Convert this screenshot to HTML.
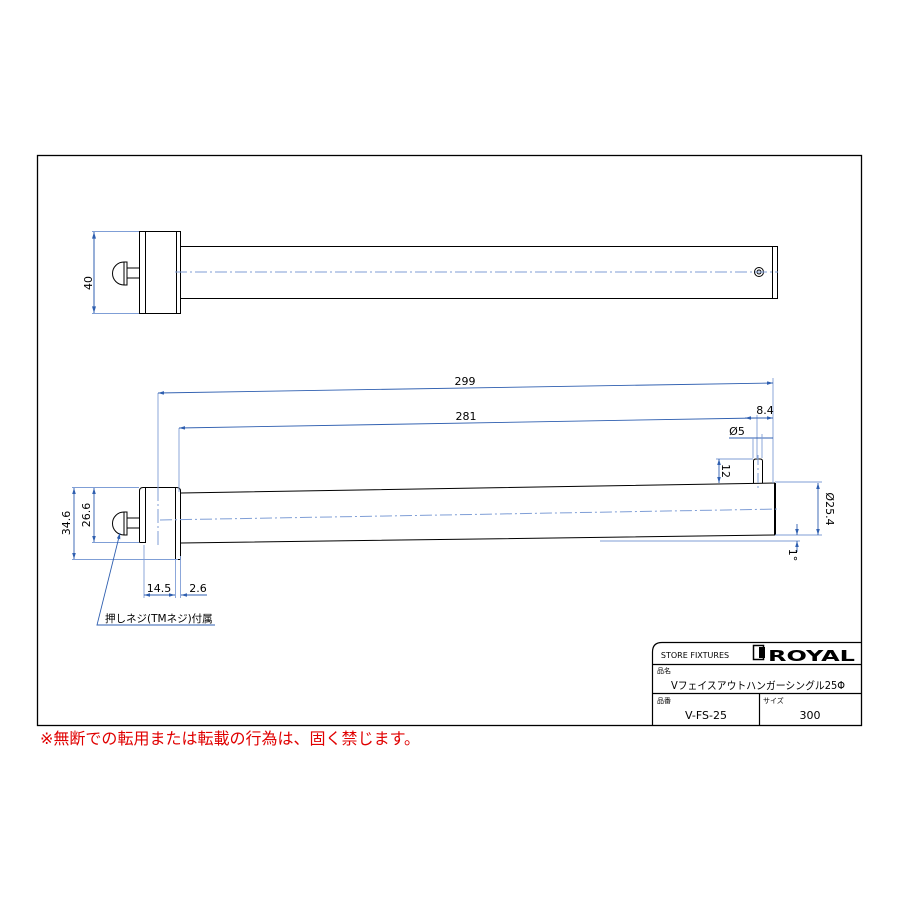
<!DOCTYPE html>
<html><head><meta charset="utf-8"><style>
html,body{margin:0;padding:0;background:#fff}
svg{display:block}
text{font-family:"DejaVu Sans","Liberation Sans","Noto Sans CJK JP",sans-serif}
</style></head><body>
<svg width="900" height="900" viewBox="0 0 900 900" xmlns="http://www.w3.org/2000/svg">
<defs>
<marker id="a" viewBox="0 0 10 6" refX="10" refY="3" markerWidth="7" markerHeight="4" orient="auto-start-reverse"><path d="M0,0L10,3L0,6z" fill="#2f5fb0"/></marker>
</defs>
<rect x="37.5" y="155.5" width="824" height="570" fill="none" stroke="#000" stroke-width="1.3"/>

<!-- TOP VIEW -->
<g fill="none" stroke="#000" stroke-width="1">
<rect x="139.5" y="231.5" width="41" height="82"/>
<line x1="145.5" y1="231" x2="145.5" y2="313"/>
<line x1="176.5" y1="231" x2="176.5" y2="313"/>
<rect x="180.5" y="246.5" width="597" height="52"/>
<line x1="772.5" y1="246" x2="772.5" y2="298"/>
<circle cx="759" cy="272" r="4.5"/><circle cx="759" cy="272" r="2"/>
<path d="M124,262 A11,11 0 0 0 124,285 L127,285 L127,262 Z"/>
<line x1="124" y1="262" x2="124" y2="285"/><line x1="127" y1="262" x2="127" y2="285"/>
<rect x="127" y="268" width="12.5" height="10"/>
</g>
<line x1="175" y1="272" x2="778" y2="272" stroke="#7f9ed6" stroke-dasharray="12,3,2,3"/>
<g stroke="#7f9ed6" fill="none">
<line x1="92" y1="231.5" x2="139" y2="231.5"/><line x1="92" y1="313.5" x2="139" y2="313.5"/>
<line x1="94" y1="232" x2="94" y2="313" stroke="#2f5fb0" marker-start="url(#a)" marker-end="url(#a)"/>
</g>
<text x="92" y="283" font-size="11" transform="rotate(-90 92 283)" text-anchor="middle">40</text>

<!-- SIDE VIEW -->
<g fill="none" stroke="#000" stroke-width="1">
<path d="M139.5,542.5 V491 Q139.5,487.5 143,487.5 H176.5 Q180.5,487.5 180.5,491 V559.5 H175.5 V487.5"/>
<path d="M139.5,542.5 H145.5 V487.5"/>
<path d="M181,493 L775,483 M181,543 L775,535"/>
<line x1="775" y1="483" x2="775" y2="535" stroke-width="2"/>
<path d="M753.5,483 V461 Q753.5,459 756,459 H760 Q762.5,459 762.5,461 V483"/>
<path d="M124,512 A11,11 0 0 0 124,535 L127,535 L127,512 Z"/>
<line x1="124" y1="512" x2="124" y2="535"/><line x1="127" y1="512" x2="127" y2="535"/>
<rect x="127" y="518" width="12.5" height="10"/>
</g>
<line x1="160" y1="520" x2="780" y2="509" stroke="#7f9ed6" stroke-dasharray="12,3,2,3"/>
<line x1="158" y1="487" x2="158" y2="545" stroke="#7f9ed6" stroke-dasharray="14,3,2,3"/>
<line x1="758" y1="455" x2="758" y2="490" stroke="#7f9ed6" stroke-dasharray="10,3,2,3"/>

<g stroke="#7f9ed6" fill="none" stroke-width="0.9">
<line x1="158" y1="393" x2="158" y2="487"/>
<line x1="773" y1="378" x2="773" y2="483"/>
<line x1="158" y1="393" x2="773" y2="383" stroke="#2f5fb0" marker-start="url(#a)" marker-end="url(#a)"/>
<line x1="179" y1="428" x2="179" y2="492"/>
<line x1="179" y1="428" x2="757" y2="418" stroke="#2f5fb0" marker-start="url(#a)"/>
<line x1="757" y1="415" x2="757" y2="459"/>
<line x1="745" y1="418" x2="773" y2="418" stroke="#2f5fb0" marker-start="url(#a)" marker-end="url(#a)"/>
<line x1="729" y1="438" x2="773" y2="438" stroke="#2f5fb0"/>
<line x1="753" y1="438" x2="753" y2="458"/><line x1="762" y1="434" x2="762" y2="458"/>
<line x1="716" y1="459" x2="753" y2="459"/>
<line x1="719" y1="459" x2="719" y2="483" stroke="#2f5fb0" marker-start="url(#a)" marker-end="url(#a)"/>
<line x1="775" y1="482" x2="822" y2="482"/><line x1="775" y1="535" x2="822" y2="535"/>
<line x1="818" y1="483" x2="818" y2="535" stroke="#2f5fb0" marker-start="url(#a)" marker-end="url(#a)"/>
<line x1="600" y1="541" x2="800" y2="541"/>
<line x1="797" y1="524" x2="797" y2="535" stroke="#2f5fb0" marker-end="url(#a)"/>
<line x1="797" y1="552" x2="797" y2="541" stroke="#2f5fb0" marker-end="url(#a)"/>
<line x1="72" y1="487.5" x2="139" y2="487.5"/><line x1="72" y1="559.5" x2="178" y2="559.5"/>
<line x1="92" y1="542.5" x2="139" y2="542.5"/>
<line x1="74" y1="488" x2="74" y2="559" stroke="#2f5fb0" marker-start="url(#a)" marker-end="url(#a)"/>
<line x1="94" y1="488" x2="94" y2="542" stroke="#2f5fb0" marker-start="url(#a)" marker-end="url(#a)"/>
<line x1="144" y1="545" x2="144" y2="598"/>
<line x1="175.5" y1="560" x2="175.5" y2="598"/>
<line x1="180.5" y1="556" x2="180.5" y2="598"/>
<line x1="144" y1="595" x2="175" y2="595" stroke="#2f5fb0" marker-start="url(#a)" marker-end="url(#a)"/>
<line x1="181" y1="595" x2="207" y2="595" stroke="#2f5fb0" marker-start="url(#a)"/>
<polyline points="120,533 97,625 215,625" stroke="#2f5fb0" marker-start="url(#a)"/>
</g>
<g font-size="11" fill="#000">
<text x="465" y="385" text-anchor="middle">299</text>
<text x="466" y="420" text-anchor="middle">281</text>
<text x="765" y="414" text-anchor="middle">8.4</text>
<text x="737" y="435" text-anchor="middle">Ø5</text>
<text x="722" y="471" text-anchor="middle" transform="rotate(90 722 471)">12</text>
<text x="826" y="509" text-anchor="middle" transform="rotate(90 826 509)">Ø25.4</text>
<text x="789" y="555" text-anchor="middle" transform="rotate(90 789 555)">1°</text>
<text x="70" y="523" text-anchor="middle" transform="rotate(-90 70 523)">34.6</text>
<text x="90" y="515" text-anchor="middle" transform="rotate(-90 90 515)">26.6</text>
<text x="159" y="592" text-anchor="middle">14.5</text>
<text x="198" y="592" text-anchor="middle">2.6</text>
<text x="105" y="622" font-size="10.5">押しネジ(TMネジ)付属</text>
</g>

<!-- TITLE BLOCK -->
<g fill="none" stroke="#000" stroke-width="1.2">
<path d="M652.5,725 V652 Q652.5,642.5 662,642.5 H861"/>
<line x1="652" y1="664.5" x2="861" y2="664.5"/>
<line x1="652" y1="693.5" x2="861" y2="693.5"/>
<line x1="759.5" y1="693.5" x2="759.5" y2="725"/>
<rect x="753.5" y="645.5" width="10" height="14" stroke-width="1.5"/>
</g>
<rect x="759" y="647" width="6" height="11" fill="#000"/>
<text x="695" y="658" font-size="8" text-anchor="middle" font-family="Liberation Sans Narrow, Liberation Sans, sans-serif">STORE FIXTURES</text>
<text x="768" y="661" font-size="15" font-weight="bold" textLength="87" lengthAdjust="spacingAndGlyphs" font-family="Liberation Sans, sans-serif">ROYAL</text>
<text x="657" y="673" font-size="7">品名</text>
<text x="758" y="689" font-size="10.5" text-anchor="middle" textLength="174" lengthAdjust="spacingAndGlyphs">Vフェイスアウトハンガーシングル25Φ</text>
<text x="657" y="703" font-size="7">品番</text>
<text x="763" y="703" font-size="7">サイズ</text>
<text x="706" y="719" font-size="11" text-anchor="middle">V-FS-25</text>
<text x="810" y="719" font-size="11" text-anchor="middle">300</text>

<text x="40" y="744" font-size="16" fill="#e00000" textLength="380" lengthAdjust="spacingAndGlyphs">※無断での転用または転載の行為は、固く禁じます。</text>
</svg>
</body></html>
